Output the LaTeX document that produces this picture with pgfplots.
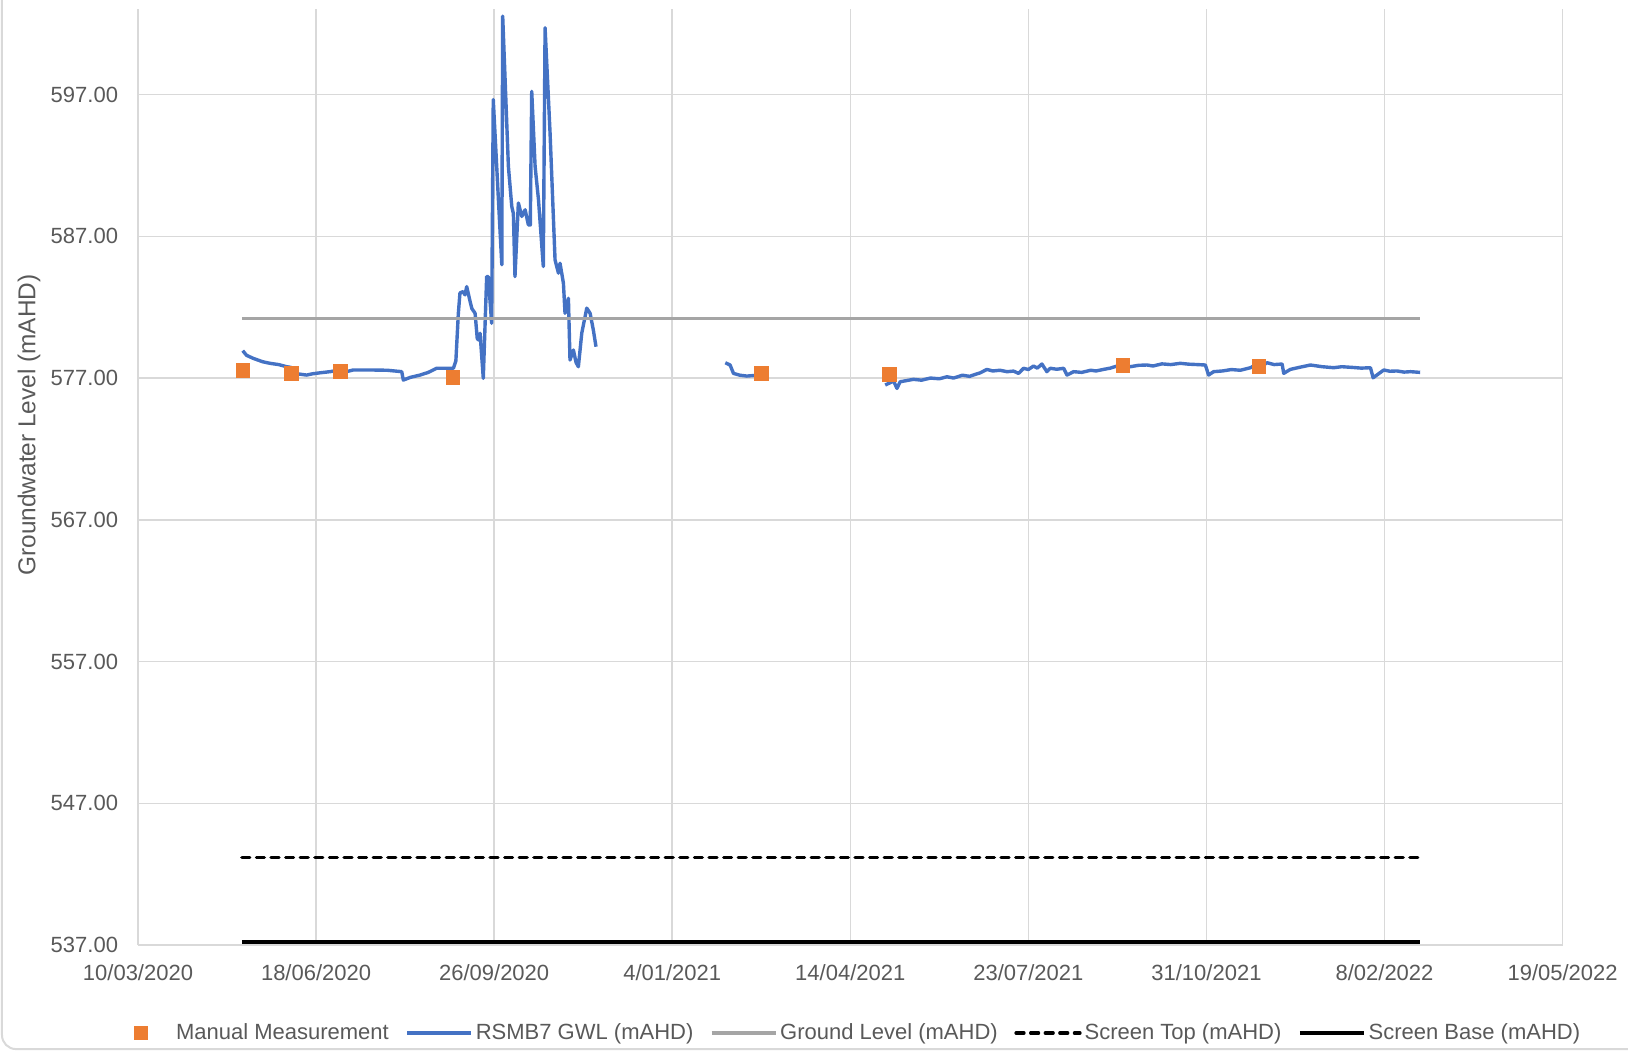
\documentclass[border=0pt]{standalone}
\usepackage{pgfplots}
\pgfplotsset{compat=1.18}
\usepackage{fontspec}
\setmainfont{Liberation Sans}
\definecolor{gwlblue}{HTML}{4472C4}
\definecolor{mmorange}{HTML}{ED7D31}
\definecolor{glgray}{HTML}{A5A5A5}
\definecolor{gridgray}{HTML}{D9D9D9}
\definecolor{txtgray}{HTML}{595959}
\pgfplotsset{
  linelegend/.style={legend image code/.code={\draw[##1] (0pt,0pt) -- (32pt,0pt);}},
  marklegend/.style={legend image code/.code={\path[draw=none,fill=none] (0pt,-3pt) rectangle (32pt,3pt);\draw[mark repeat=2,mark phase=2,##1] plot coordinates {(0pt,0pt) (16pt,0pt) (32pt,0pt)};}},
}

\pgfplotstableread{
day val
58.8 578.93
61 578.6
64.7 578.39
70 578.15
74.1 578.04
79 577.95
83.5 577.8
86.0 577.75
86.5 577.35
94.7 577.21
98 577.3
102.2 577.37
107.8 577.45
113.4 577.57
115.3 577.21
117 577.45
120.9 577.57
130.3 577.57
140 577.55
148.1 577.45
149 576.86
153 577.05
158.4 577.21
163 577.4
167.7 577.69
177.1 577.69
178.5 578.2
179.9 581.57
180.8 583.0
182.5 583.1
183.6 582.87
184.6 583.45
186.5 582.4
187.5 581.9
189.3 581.57
190.5 579.8
191.1 579.69
192.1 580.16
193.9 576.98
195.8 584.16
196.7 584.16
198.6 580.86
199.5 596.65
202.4 589.58
204.3 584.99
204.8 602.53
208 591.93
209.9 589.1
210.8 588.6
211.7 584.16
213.6 589.35
215.5 588.4
217.4 588.87
219.2 587.81
220.3 587.8
221.1 597.23
223 591.93
224.9 589.58
227.6 584.87
228.6 601.71
231.4 594.29
234.2 585.34
236.1 584.4
237 585.1
238.9 583.69
239.8 581.57
241.7 582.63
242.6 578.27
244.5 578.98
246 578.1
247.3 577.8
249.2 580.16
252 581.93
253.9 581.57
255.7 580.39
257.2 579.21
290 nan
329.8 578.08
332.5 577.92
334.4 577.33
338 577.2
341.9 577.14
346 577.18
350.3 577.28
390 nan
419.6 576.51
422 576.65
424.3 576.79
426.2 576.27
428 576.74
435.5 576.91
440 576.85
445 577.0
450 576.95
454.3 577.09
458 577.0
463 577.2
467 577.12
470 577.25
473 577.37
476.7 577.61
480 577.5
484 577.55
488 577.45
491.7 577.49
494.5 577.33
497.3 577.69
500 577.6
502.9 577.85
505 577.7
507.6 577.99
510.4 577.45
512.3 577.69
516 577.62
519.8 577.69
521.7 577.21
525.4 577.45
530 577.4
535 577.55
538 577.5
542.2 577.61
546 577.7
549.8 577.85
553 577.78
557.2 577.8
562 577.9
566.6 577.92
570 577.85
575 578.0
580 577.95
585.3 578.04
590 577.98
595 577.95
599.4 577.92
601.2 577.21
604 577.45
609 577.5
614 577.6
619 577.55
624.7 577.73
628.4 577.97
631 577.85
634.1 578.08
638 577.95
642.5 577.99
643.4 577.33
647.1 577.61
652 577.75
658.4 577.92
665 577.8
671.5 577.73
676 577.8
682 577.75
687 577.7
692.1 577.73
693.6 577.02
699.6 577.57
703 577.48
707 577.5
711 577.42
714.6 577.45
720 577.4
}\gwl

\pgfplotstableread{
day val
58.9 577.54
86.3 577.32
113.8 577.47
176.8 577.03
350.0 577.32
421.8 577.25
553.0 577.91
629.5 577.83
}\manual

\begin{document}
\begin{tikzpicture}
\useasboundingbox (-69pt,-53.5pt) rectangle (745pt,472.55pt);
\draw[gridgray, line width=1pt, rounded corners=7pt] (-68pt,480pt) -- (-68pt,-52pt) -- (760pt,-52pt);
\begin{axis}[
  at={(0pt,0pt)}, anchor=south west,
  scale only axis,
  width=712.3pt, height=467.8pt,
  xmin=0, xmax=800, ymin=537, ymax=603,
  xtick={0,100,...,800},
  xticklabels={10/03/2020,18/06/2020,26/09/2020,4/01/2021,14/04/2021,23/07/2021,31/10/2021,8/02/2022,19/05/2022},
  ytick={537,547,...,597},
  yticklabels={537.00,547.00,557.00,567.00,577.00,587.00,597.00},
  grid=major,
  major grid style={color=gridgray, line width=0.75pt},
  axis line style={draw=none},
  tick style={draw=none},
  ticklabel style={font=\fontsize{11pt}{13pt}\selectfont, text=txtgray},
  yticklabel style={anchor=east, inner sep=0pt, xshift=-9.8pt},
  xticklabel style={anchor=north, inner sep=0pt, yshift=-9.5pt},
  ylabel={Groundwater Level (mAHD)},
  ylabel style={at={(axis description cs:-0.0765,0.556)}, anchor=center, font=\fontsize{12.2pt}{14pt}\selectfont, text=txtgray},
  clip=false,
  legend columns=5,
  legend style={at={(axis description cs:0.4967,-0.094)}, anchor=center, draw=none, fill=none,
    font=\fontsize{11pt}{13pt}\selectfont, text=txtgray,
    nodes={inner sep=1pt},
    /tikz/every even column/.append style={column sep=7.3pt},
    /tikz/every odd column/.append style={column sep=0.5pt}},
  unbounded coords=jump,
]
\addplot[only marks, mark=square*, mark size=3.4pt, mmorange, mark options={draw=mmorange, fill=mmorange}, marklegend]
  table[x=day,y=val]{\manual};
\addlegendentry{Manual Measurement}
\addplot[gwlblue, line width=1.7pt, line join=round, linelegend] table[x=day,y=val]{\gwl};
\addlegendentry{RSMB7 GWL (mAHD)}
\addplot[glgray, line width=1.6pt, linelegend] coordinates {(58.3,581.2) (720,581.2)};
\addlegendentry{Ground Level (mAHD)}
\addplot[black, line width=1.6pt, dash pattern=on 4pt off 3.3pt, line cap=round, linelegend] coordinates {(58.3,543.2) (720,543.2)};
\addlegendentry{Screen Top (mAHD)}
\addplot[black, line width=1.8pt, linelegend] coordinates {(58.3,537.2) (720,537.2)};
\addlegendentry{Screen Base (mAHD)}
\end{axis}
\end{tikzpicture}
\end{document}
